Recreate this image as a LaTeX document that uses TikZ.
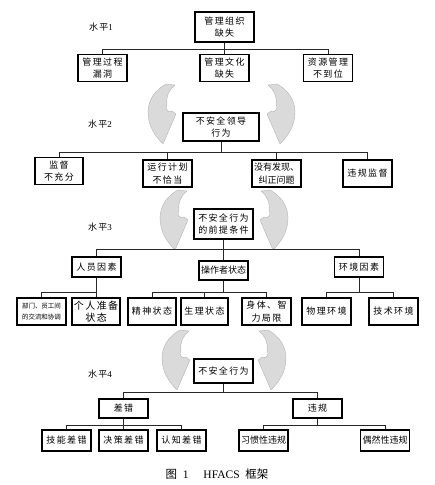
\documentclass[tikz,border=0pt]{standalone}
\usepackage{fontspec}
\usepackage{tikz}
\usetikzlibrary{positioning,calc}
\newfontfamily\cjk[LetterSpace=15]{Noto Sans CJK SC}
\newfontfamily\cjktight{Noto Sans CJK SC}
\newfontfamily\latinserif{Liberation Serif}
\definecolor{arrowgray}{RGB}{218,218,218}
\definecolor{arrowedge}{RGB}{170,170,170}
\definecolor{linegray}{RGB}{40,40,40}

\begin{document}
\begin{tikzpicture}[x=1pt, y=-1pt,
    % --- Node styles ---
    box/.style={
      draw=black, line width=1.1pt, fill=white,
      minimum width=49pt, minimum height=27pt,
      font=\fontsize{9}{12.5}\cjk,
      align=center, inner sep=1pt,
    },
    topbox/.style={box, minimum width=59pt, minimum height=30pt},
    flatbox/.style={box, minimum height=20pt},
    leafbox/.style={box, minimum height=21pt},
    tight/.style={font=\fontsize{9}{12.5}\cjktight},
    lvl/.style={font=\fontsize{9}{10}\cjk, inner sep=0pt},
    % --- Connector style ---
    link/.style={draw=linegray, line width=0.8pt},
    % --- Curved block arrows between levels ---
    bendfill/.style={fill=arrowgray, draw=arrowedge, line width=0.3pt},
    bendarrow/.pic={
      \path[bendfill] (18,0) -- (27,1)
        .. controls (21,6) and (18,12) .. (19,20)
        .. controls (16,25) and (20,29) .. (24,27)
        -- (28,30) -- (15,60)
        .. controls (6,51) and (0,41) .. (0,28)
        .. controls (0,16) and (7,6) .. cycle;
    },
  ]
    \useasboundingbox (0,0) rectangle (435,485);

    % ===================== CURVED ARROWS =====================
    \pic at (148,84) {bendarrow};
    \pic[xscale=-1] at (295,84) {bendarrow};
    \pic at (160,190) {bendarrow};
    \pic[xscale=-1] at (288,190) {bendarrow};
    \pic at (162,330) {bendarrow};
    \pic[xscale=-1] at (286,330) {bendarrow};

    % ===================== LEVEL 1 =====================
    \node[lvl] (lv1) at (101,27) {水平{\latinserif 1}};
    \node[topbox] (org)  at (224.5,27) {管理组织\\缺失};
    \node[box]    (proc) at (102.5,68) {管理过程\\漏洞};
    \node[box]    (cult) at (224.5,68) {管理文化\\缺失};
    \node[box]    (res)  at (328,68)   {资源管理\\不到位};
    \foreach \c in {proc,cult,res}
      \draw[link] (org.south) -- ++(0,7) -| (\c.north);

    % ===================== LEVEL 2 =====================
    \node[lvl] (lv2) at (100,124) {水平{\latinserif 2}};
    \node[box, minimum width=76pt, minimum height=28pt] (lead) at (221,127) {不安全领导\\行为};
    \node[box, minimum width=48pt] (sup) at (59,171) {监督\\不充分};
    \node[box]        (plan) at (167.5,173.5) {运行计划\\不恰当};
    \node[box, tight] (find) at (276.5,173.5) {没有发现、\\纠正问题};
    \node[box]        (viol) at (367.5,173.5) {违规监督};
    \foreach \c in {sup,plan,find,viol}
      \draw[link] (lead.south) -- ++(0,11) -| (\c.north);

    % ===================== LEVEL 3 =====================
    \node[lvl] (lv3) at (100,227) {水平{\latinserif 3}};
    \node[topbox] (pre) at (223.5,224) {不安全行为\\的前提条件};
    \node[flatbox]        (pers) at (96.5,267)  {人员因素};
    \node[flatbox, tight, minimum height=19pt] (oper) at (223.5,270.5) {操作者状态};
    \node[flatbox]        (env)  at (359,267)   {环境因素};
    \foreach \c in {pers,oper,env}
      \draw[link] (pre.south) -- ++(0,10) -| (\c.north);

    % personnel factors
    \node[box, font=\fontsize{6.5}{11}\cjktight] (comm) at (41.5,311.5) {部门、员工间\\的交流和协调};
    \node[box, minimum width=48pt, font=\fontsize{10}{12.5}\cjk] (ready) at (96,311.5) {个人准备\\状态};
    \foreach \c in {comm,ready}
      \draw[link] (pers.south) -- ++(0,15) -| (\c.north);

    % operator state
    \node[box, minimum width=48pt] (ment) at (152,311.5)   {精神状态};
    \node[box, minimum width=47pt] (phys) at (204.5,311.5) {生理状态};
    \node[box]                     (lim)  at (266.5,311.5) {身体、智\\力局限};
    \foreach \c in {ment,phys,lim}
      \draw[link] (oper.south) -- ++(0,12) -| (\c.north);

    % environment
    \node[box] (phyenv) at (326.5,311.5) {物理环境};
    \node[box] (tech)   at (393.5,311.5) {技术环境};
    \foreach \c in {phyenv,tech}
      \draw[link] (env.south) -- ++(0,15) -| (\c.north);

    % ===================== LEVEL 4 =====================
    \node[lvl] (lv4) at (100,374) {水平{\latinserif 4}};
    \node[topbox, minimum height=24pt] (unsafe) at (223.5,371) {不安全行为};
    \node[flatbox, minimum height=19pt] (err) at (123.5,408.5) {差错};
    \node[flatbox, minimum height=19pt] (vio) at (317.5,408.5) {违规};
    \foreach \c in {err,vio}
      \draw[link] (unsafe.south) -- ++(0,9) -| (\c.north);

    \node[leafbox] (skill) at (66.5,440.5)  {技能差错};
    \node[leafbox] (dec)   at (123.5,440.5) {决策差错};
    \node[leafbox] (cog)   at (181.5,440.5) {认知差错};
    \foreach \c in {skill,dec,cog}
      \draw[link] (err.south) -- ++(0,7) -| (\c.north);

    \node[leafbox, tight] (habit) at (263.5,440.5) {习惯性违规};
    \node[leafbox, tight] (occ)   at (385,440.5)   {偶然性违规};
    \foreach \c in {habit,occ}
      \draw[link] (vio.south) -- ++(0,7) -| (\c.north);

    % ===================== CAPTION =====================
    \node[font=\fontsize{11.5}{14}\cjktight] (cap) at (217,474)
      {图\enspace{\latinserif 1}\hspace{1.3em}{\latinserif HFACS}\enspace 框架};

\end{tikzpicture}
\end{document}
